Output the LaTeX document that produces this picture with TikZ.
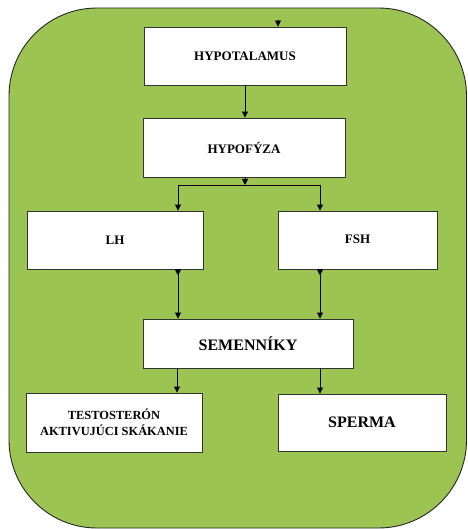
\documentclass[tikz,border=0pt]{standalone}
\usepackage{fontspec}
\setmainfont{Liberation Serif}
\usetikzlibrary{arrows.meta,decorations.markings}
\definecolor{leaf}{RGB}{155,196,83}
\begin{document}
\begin{tikzpicture}[x=1pt,y=-1pt,
  box/.style={draw=black!80,line width=0.9pt,fill=white,rectangle,inner sep=0pt,align=center,font=\bfseries\fontsize{13}{14}\selectfont},
  bigtext/.style={font=\bfseries\fontsize{16}{18}\selectfont},
  twoline/.style={font=\bfseries\fontsize{12.4}{16}\selectfont},
  conn/.style={line width=0.9pt,-{Triangle[width=6pt,length=6pt]}},
  midhead/.style={postaction={decorate},decoration={markings,mark=at position 6pt with {\arrow{Triangle[width=6pt,length=6pt]}}}}]
\useasboundingbox (0,0) rectangle (467,529);
\draw[fill=leaf,draw=black!85,line width=0.9pt,rounded corners=88pt] (9,8) rectangle (466.5,528);
\node[box,minimum width=202pt,minimum height=58pt] (hyp) at (245,56) {HYPOTALAMUS};
\node[box,minimum width=202pt,minimum height=59pt] (hypo) at (244,147.5) {HYPOFÝZA};
\node[box,minimum width=176pt,minimum height=58pt] (lh) at (115,240) {\raisebox{-1pt}{LH}};
\node[box,minimum width=159pt,minimum height=58pt] (fsh) at (357.5,240) {\raisebox{1pt}{FSH}};
\node[box,bigtext,minimum width=210pt,minimum height=49pt] (sem) at (248,343.5) {SEMENNÍKY};
\node[box,twoline,minimum width=176pt,minimum height=59pt] (tes) at (114,422.5) {TESTOSTERÓN\\AKTIVUJÚCI SKÁKANIE};
\node[box,bigtext,minimum width=168pt,minimum height=57pt] (spe) at (362,422.5) {SPERMA};
\coordinate (topin) at (278,20);
\coordinate (jn) at (245,185);
\coordinate (jl) at (178,185);
\coordinate (jr) at (320,185);
\draw[conn] (topin) -- (topin |- hyp.north);
\draw[conn] (hyp.south -| 245,0) -- (hypo.north -| 245,0);
\draw[conn] (hypo.south -| jn) -- (jn);
\draw[line width=0.9pt] (jl) -- (jr);
\draw[conn] (jl) -- (jl |- lh.north);
\draw[conn] (jr) -- (jr |- fsh.north);
\draw[conn,midhead] (lh.south -| jl) -- (sem.north -| jl);
\draw[conn,midhead] (fsh.south -| jr) -- (sem.north -| jr);
\draw[conn] (sem.south -| 177,0) -- (tes.north -| 177,0);
\draw[conn] (sem.south -| jr) -- (spe.north -| jr);
\end{tikzpicture}
\end{document}
